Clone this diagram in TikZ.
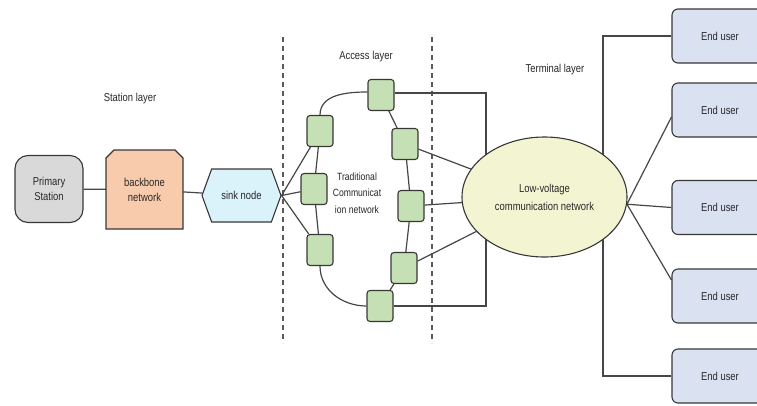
\documentclass[tikz,border=0pt]{standalone}
\usepackage{fontspec}
\setmainfont{Liberation Sans}[FakeStretch=0.82]
\usetikzlibrary{shapes.geometric,shapes.symbols}
\pgfdeclarelayer{bg}
\pgfdeclarelayer{mid}
\pgfsetlayers{bg,mid,main}
\definecolor{linec}{RGB}{70,70,70}
\definecolor{bordc}{RGB}{55,55,55}
\definecolor{textc}{RGB}{40,40,40}
\definecolor{grayf}{RGB}{217,217,217}
\definecolor{peachf}{RGB}{248,203,173}
\definecolor{cyanf}{RGB}{218,242,250}
\definecolor{greenf}{RGB}{197,224,180}
\definecolor{yelf}{RGB}{243,245,210}
\definecolor{userf}{RGB}{218,226,242}
\definecolor{dashc}{RGB}{90,90,90}
\begin{document}
\begin{tikzpicture}[x=1pt,y=-1pt,
  font=\fontsize{11.5}{15}\selectfont, text=textc,
  conn/.style={draw=linec, line width=1.2pt},
  sep/.style={draw=dashc, line width=1.2pt, dash pattern=on 5pt off 4pt},
  shapeb/.style={draw=bordc, line width=1.1pt},
  greenbox/.style={shapeb, fill=greenf, rounded corners=3pt, minimum width=26pt, minimum height=31pt, inner sep=0pt},
  userbox/.style={shapeb, fill=userf, rounded corners=6pt, minimum width=96pt, minimum height=54pt},
  lbl/.style={inner sep=1pt}]
\useasboundingbox (0,0) rectangle (757,405);
\clip (0,0) rectangle (757,405);
% station layer
\node[shapeb, fill=grayf, rounded corners=13pt, minimum width=68pt, minimum height=67pt, align=center] (ps) at (49,189) {Primary\\Station};
\node[minimum width=77pt, minimum height=79pt, align=center] (bb) at (144.5,189.5) {backbone\\network};
\begin{pgfonlayer}{mid}
\draw[shapeb, fill=peachf] (106,229) -- (106,158) -- (114,150) -- (175,150) -- (183,158) -- (183,229) -- cycle;
\end{pgfonlayer}
\node[signal, signal to=west and east, signal pointer angle=140, shapeb, fill=cyanf, minimum width=79pt, minimum height=53pt, inner xsep=2pt] (sink) at (241.5,195.5) {sink node};
% access layer
\node[greenbox] (g1) at (381,95) {};
\node[greenbox] (g2) at (320,131) {};
\node[greenbox] (g3) at (314,189) {};
\node[greenbox] (g4) at (320,250) {};
\node[greenbox] (g5) at (405,144) {};
\node[greenbox] (g6) at (411,206) {};
\node[greenbox] (g7) at (404,268) {};
\node[greenbox] (g8) at (380,306) {};
\node[lbl, align=center, font=\fontsize{10.5}{16.5}\selectfont] (tcn) at (357,193) {Traditional\\Communicat\\ion network};
% terminal layer
\node[ellipse, shapeb, fill=yelf, minimum width=165pt, minimum height=120pt, align=center, font=\fontsize{11.5}{18}\selectfont] (lv) at (544.5,197) {Low-voltage\\communication network};
\node[userbox] (u1) at (720,36) {End user};
\node[userbox] (u2) at (720,110) {End user};
\node[userbox] (u3) at (720,207.5) {End user};
\node[userbox] (u4) at (720,296) {End user};
\node[userbox] (u5) at (720,376) {End user};
% layer labels
\node[lbl] (sl) at (130,99) {Station layer};
\node[lbl] (al) at (366,57) {Access layer};
\node[lbl] (tl) at (555,70) {Terminal layer};
% coordinates
\coordinate (cx) at (486,200);
\coordinate (tx) at (603,200);
\coordinate (d1t) at (283,37);
\coordinate (d1b) at (283,343);
\coordinate (d2t) at (432,37);
\coordinate (d2b) at (432,343);
\begin{pgfonlayer}{bg}
\draw[sep] (d1t) -- (d1b);
\draw[sep] (d2t) -- (d2b);
\draw[conn] (ps) -- (bb);
\draw[conn] (bb) -- (sink);
\draw[conn] (sink.east) -- (g2);
\draw[conn] (sink.east) -- (g3);
\draw[conn] (sink.east) -- (g4);
\draw[conn] (g2.north) to[out=90,in=180] ([yshift=3pt]g1.west);
\draw[conn] (g2) -- (g3) -- (g4);
\draw[conn] (g4.south) to[out=-90,in=180] (g8.west);
\draw[conn] (g1) -- (g5) -- (g6) -- (g7) -- (g8);
\draw[conn] (g5) -- (lv);
\draw[conn] (g6) -- (lv);
\draw[conn] (g7) -- (lv);
\draw[conn] ([yshift=2pt]g1.east) -| (cx) |- (g8.east);
\draw[conn] (u1.west) -| (tx) |- (u5.west);
\draw[conn] (lv.-5) -- ([yshift=-7pt]u2.west);
\draw[conn] (lv.-5) -- (u3.west);
\draw[conn] (lv.-5) -- ([yshift=16pt]u4.west);
\end{pgfonlayer}
\end{tikzpicture}
\end{document}
